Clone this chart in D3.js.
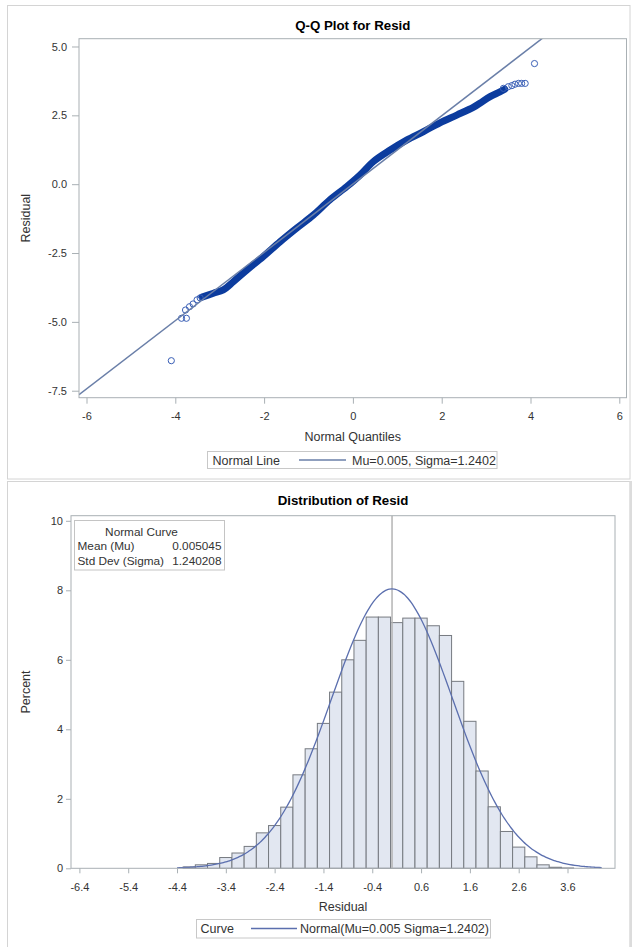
<!DOCTYPE html>
<html><head><meta charset="utf-8">
<script src="https://cdn.jsdelivr.net/npm/d3@7"></script>
<style>
html,body{margin:0;padding:0;background:#fff;}
svg{display:block;font-family:"Liberation Sans",Arial,sans-serif;}
</style></head><body>
<svg id="c" width="632" height="947"></svg>
<script>
// ---------- data ----------
const normalMu = 0.005045;
const normalSigma = 1.240208;

// Q-Q plot: dense band of residual markers (read along the band)
const qqBandQuantile = [-3.40,-3.14,-2.92,-2.69,-2.39,-2.02,-1.64,-1.27,-0.89,-0.52,-0.14,0.16,0.46,0.84,1.21,1.59,1.96,2.34,2.71,2.86,3.09,3.31,3.42];
const qqBandResid    = [-4.10,-3.96,-3.84,-3.54,-3.12,-2.63,-2.09,-1.60,-1.12,-0.57,-0.09,0.33,0.82,1.24,1.60,1.91,2.23,2.51,2.79,2.94,3.18,3.35,3.45];
// Q-Q plot: separated tail markers
const qqTailQuantile = [-4.09,-3.86,-3.75,-3.77,-3.68,-3.60,-3.51,-3.44,3.39,3.50,3.58,3.65,3.73,3.80,3.88,4.09];
const qqTailResid    = [-6.41,-4.87,-4.87,-4.57,-4.45,-4.35,-4.20,-4.13,3.48,3.54,3.58,3.63,3.66,3.66,3.66,4.38];

const qqXTicks = [-6,-4,-2,0,2,4,6];
const qqYTicks = [5,2.5,0,-2.5,-5,-7.5];

// Histogram
const binWidth = 0.25;
const histMid = [-4.15,-3.9,-3.65,-3.4,-3.15,-2.9,-2.65,-2.4,-2.15,-1.9,-1.65,-1.4,-1.15,-0.9,-0.65,-0.4,-0.15,0.1,0.35,0.6,0.85,1.1,1.35,1.6,1.85,2.1,2.35,2.6,2.85,3.1,3.35,3.6];
const histPct = [0.04,0.10,0.14,0.31,0.44,0.63,1.02,1.23,1.76,2.69,3.44,4.17,5.07,6.00,6.56,7.23,7.23,7.07,7.20,7.20,6.98,6.70,5.38,4.23,2.80,1.77,1.06,0.61,0.33,0.10,0.03,0.01];
const histXTicks = [-6.4,-5.4,-4.4,-3.4,-2.4,-1.4,-0.4,0.6,1.6,2.6,3.6];
const histYTicks = [0,2,4,6,8,10];
const curveRange = [-4.4, 4.3];

// ---------- styles ----------
const axisColor = "#a9b0b4";
const textColor = "#333333";
const lineColor = "#6a7fa8";
const bandColor = "#0c3c9e";
const markerColor = "#3a5fb6";
const curveColor = "#5b6fae";

const svg = d3.select("#c");

// panel borders
svg.append("rect").attr("x",7.5).attr("y",5.5).attr("width",622.5).attr("height",473.5)
  .attr("fill","none").attr("stroke","#d4d4d4");
svg.append("rect").attr("x",7.5).attr("y",481.5).attr("width",622.5).attr("height",480)
  .attr("fill","none").attr("stroke","#d4d4d4");
svg.append("rect").attr("x",629.5).attr("y",481).attr("width",3).attr("height",470).attr("fill","#dcdcdc");

function styleAxis(g){
  g.attr("font-family",null).attr("font-size",11);
  g.select(".domain").remove();
  g.selectAll(".tick line").attr("stroke",axisColor);
  g.selectAll(".tick text").attr("fill",textColor);
}

// ================= Q-Q plot =================
const qL=79, qR=626.5, qT=38.7, qB=397.7;
const xq = d3.scaleLinear().domain([-6.169, 6.162]).range([qL,qR]);
const yq = d3.scaleLinear().domain([-7.754, 5.283]).range([qB,qT]);

svg.append("text").attr("x",(qL+qR)/2).attr("y",29.5).attr("text-anchor","middle")
  .attr("font-size",13.3).attr("font-weight","bold").attr("fill","#000").text("Q-Q Plot for Resid");

svg.append("clipPath").attr("id","qclip").append("rect")
  .attr("x",qL).attr("y",qT).attr("width",qR-qL).attr("height",qB-qT);
const qg = svg.append("g").attr("clip-path","url(#qclip)");

const bandPts = qqBandQuantile.map((q,i)=>[q,qqBandResid[i]]);
qg.append("path").datum(bandPts)
  .attr("d", d3.line().x(d=>xq(d[0])).y(d=>yq(d[1])).curve(d3.curveCatmullRom))
  .attr("fill","none").attr("stroke",bandColor).attr("stroke-width",7)
  .attr("stroke-linecap","round").attr("stroke-linejoin","round");

qg.selectAll("circle.tail").data(qqTailQuantile.map((q,i)=>[q,qqTailResid[i]]))
  .enter().append("circle").attr("class","tail")
  .attr("cx",d=>xq(d[0])).attr("cy",d=>yq(d[1])).attr("r",3.1)
  .attr("fill","none").attr("stroke",markerColor).attr("stroke-width",1);

// normal reference line
const lx = xq.domain();
qg.append("line")
  .attr("x1",xq(lx[0])).attr("y1",yq(normalMu+normalSigma*lx[0]))
  .attr("x2",xq(lx[1])).attr("y2",yq(normalMu+normalSigma*lx[1]))
  .attr("stroke",lineColor).attr("stroke-width",1.5);

svg.append("rect").attr("x",qL).attr("y",qT).attr("width",qR-qL).attr("height",qB-qT)
  .attr("fill","none").attr("stroke",axisColor);

const gqx = svg.append("g").attr("transform",`translate(0,${qB})`)
  .call(d3.axisBottom(xq).tickValues(qqXTicks).tickSize(6).tickPadding(8.3).tickSizeOuter(0).tickFormat(d=>String(d)));
styleAxis(gqx);
const gqy = svg.append("g").attr("transform",`translate(${qL},0)`)
  .call(d3.axisLeft(yq).tickValues(qqYTicks).tickSize(7).tickPadding(5).tickSizeOuter(0).tickFormat(d=>d.toFixed(1)));
styleAxis(gqy);

svg.append("text").attr("x",(qL+qR)/2).attr("y",441).attr("text-anchor","middle")
  .attr("font-size",12.5).attr("fill",textColor).text("Normal Quantiles");
svg.append("text").attr("transform",`translate(29.5,${(qT+qB)/2}) rotate(-90)`).attr("text-anchor","middle")
  .attr("font-size",12.5).attr("fill",textColor).text("Residual");

// legend
svg.append("rect").attr("x",207.5).attr("y",451.5).attr("width",289.5).attr("height",17)
  .attr("fill","#fff").attr("stroke","#c8c8c8");
svg.append("text").attr("x",212.5).attr("y",464.5).attr("font-size",12.5).attr("fill",textColor).text("Normal Line");
svg.append("line").attr("x1",299).attr("x2",346).attr("y1",460).attr("y2",460).attr("stroke",lineColor).attr("stroke-width",1.5);
svg.append("text").attr("x",352).attr("y",464.5).attr("font-size",12.5).attr("fill",textColor).text("Mu=0.005, Sigma=1.2402");

// ================= Histogram =================
const hL=71, hR=615, hT=515.7, hB=868.3;
const xh = d3.scaleLinear().domain([-6.572, 4.573]).range([hL,hR]);
const yh = d3.scaleLinear().domain([0, 10.147]).range([hB,hT]);

svg.append("text").attr("x",(hL+hR)/2).attr("y",505).attr("text-anchor","middle")
  .attr("font-size",13.3).attr("font-weight","bold").attr("fill","#000").text("Distribution of Resid");

svg.append("g").selectAll("rect").data(histMid.map((m,i)=>[m,histPct[i]]))
  .enter().append("rect")
  .attr("x",d=>xh(d[0]-binWidth/2)).attr("width",d=>xh(d[0]+binWidth/2)-xh(d[0]-binWidth/2))
  .attr("y",d=>yh(d[1])).attr("height",d=>hB-yh(d[1]))
  .attr("fill","#e2e7f1").attr("stroke","#767a80").attr("stroke-width",1);

// mean reference line
svg.append("line").attr("x1",xh(normalMu)).attr("x2",xh(normalMu)).attr("y1",hT).attr("y2",hB)
  .attr("stroke","#b4b4b4").attr("stroke-width",1.5);

// fitted normal curve (percent per bin) from the reported Mu and Sigma
const curveX = d3.range(curveRange[0], curveRange[1]+0.001, 0.05);
const pdfPct = x => 100*binWidth*Math.exp(-0.5*((x-normalMu)/normalSigma)**2)/(normalSigma*Math.sqrt(2*Math.PI));
svg.append("path").datum(curveX)
  .attr("d", d3.line().x(d=>xh(d)).y(d=>yh(pdfPct(d))).curve(d3.curveBasis))
  .attr("fill","none").attr("stroke",curveColor).attr("stroke-width",1.3);

svg.append("rect").attr("x",hL).attr("y",hT).attr("width",hR-hL).attr("height",hB-hT)
  .attr("fill","none").attr("stroke",axisColor);

const ghx = svg.append("g").attr("transform",`translate(0,${hB})`)
  .call(d3.axisBottom(xh).tickValues(histXTicks).tickSize(5).tickPadding(9.7).tickSizeOuter(0).tickFormat(d=>d.toFixed(1)));
styleAxis(ghx);
const ghy = svg.append("g").attr("transform",`translate(${hL},0)`)
  .call(d3.axisLeft(yh).tickValues(histYTicks).tickSize(5).tickPadding(3).tickSizeOuter(0).tickFormat(d=>String(d)));
styleAxis(ghy);

svg.append("text").attr("x",(hL+hR)/2).attr("y",911).attr("text-anchor","middle")
  .attr("font-size",12.5).attr("fill",textColor).text("Residual");
svg.append("text").attr("transform",`translate(29.5,${(hT+hB)/2}) rotate(-90)`).attr("text-anchor","middle")
  .attr("font-size",12.5).attr("fill",textColor).text("Percent");

// inset
svg.append("rect").attr("x",74.5).attr("y",520.5).attr("width",150).attr("height",49.5)
  .attr("fill","#fff").attr("stroke","#c4c4c4");
svg.append("text").attr("x",141.5).attr("y",536).attr("text-anchor","middle").attr("font-size",11.8).attr("fill",textColor).text("Normal Curve");
svg.append("text").attr("x",77.5).attr("y",549.5).attr("font-size",11.8).attr("fill",textColor).text("Mean (Mu)");
svg.append("text").attr("x",221.5).attr("y",549.5).attr("text-anchor","end").attr("font-size",11.8).attr("fill",textColor).text(normalMu.toFixed(6));
svg.append("text").attr("x",77.5).attr("y",565).attr("font-size",11.8).attr("fill",textColor).text("Std Dev (Sigma)");
svg.append("text").attr("x",221.5).attr("y",565).attr("text-anchor","end").attr("font-size",11.8).attr("fill",textColor).text(normalSigma.toFixed(6));

// legend
svg.append("rect").attr("x",196.5).attr("y",919.5).attr("width",294).attr("height",18.5)
  .attr("fill","#fff").attr("stroke","#c8c8c8");
svg.append("text").attr("x",200.5).attr("y",933).attr("font-size",12.5).attr("fill",textColor).text("Curve");
svg.append("line").attr("x1",251).attr("x2",297).attr("y1",928.5).attr("y2",928.5).attr("stroke",curveColor).attr("stroke-width",1.3);
svg.append("text").attr("x",300).attr("y",933).attr("font-size",12.5).attr("fill",textColor).text("Normal(Mu=0.005 Sigma=1.2402)");
</script>
</body></html>
